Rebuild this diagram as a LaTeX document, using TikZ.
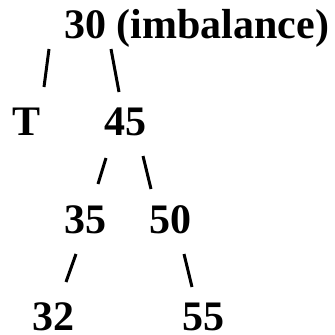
\documentclass[tikz,border=0pt]{standalone}
\usepackage{fontspec}
\setmainfont{Liberation Serif}
\usepackage{tikz}

\begin{document}
\begin{tikzpicture}
	[x=1pt,y=1pt,
		key node/.style={anchor=base west,inner sep=0pt,font=\fontsize{42}{50}\selectfont\bfseries},
		link/.style={line width=3pt}]

	\useasboundingbox (0,0) rectangle (335,-335);

	\node[key node] (R)   at (64,-38)   {30 (imbalance)};
	\node[key node] (T)   at (12,-135)  {T};
	\node[key node] (N45) at (104,-135) {45};
	\node[key node] (N35) at (64,-233)  {35};
	\node[key node] (N50) at (149,-233) {50};
	\node[key node] (N32) at (32,-330)  {32};
	\node[key node] (N55) at (182,-330) {55};

	\draw[link] ([shift={(-15,-11)}]R.base west)  -- ([shift={(32,48)}]T.base west);
	\draw[link] ([shift={(47,-11)}]R.base west)   -- ([shift={(15,43)}]N45.base west);
	\draw[link] ([shift={(2,-23)}]N45.base west)  -- ([shift={(34,49)}]N35.base west);
	\draw[link] ([shift={(39,-21)}]N45.base west) -- ([shift={(2,44)}]N50.base west);
	\draw[link] ([shift={(12,-21)}]N35.base west) -- ([shift={(34,48)}]N32.base west);
	\draw[link] ([shift={(35,-21)}]N50.base west) -- ([shift={(10,43)}]N55.base west);

\end{tikzpicture}
\end{document}
